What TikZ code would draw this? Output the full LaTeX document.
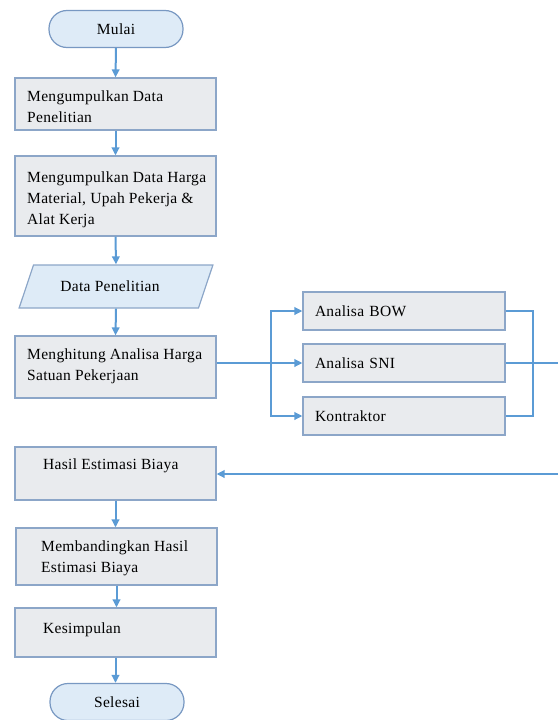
\documentclass[tikz,border=0pt]{standalone}
\usepackage{fontspec}
\setmainfont{Liberation Serif}[LetterSpace=2]
\usetikzlibrary{arrows.meta,positioning,shapes.geometric}
\definecolor{flowblue}{RGB}{91,155,213}
\definecolor{boxgray}{RGB}{233,235,238}
\definecolor{boxedge}{RGB}{140,166,200}
\definecolor{termblue}{RGB}{222,235,247}
\definecolor{termedge}{RGB}{120,152,194}

\begin{document}
\begin{tikzpicture}[
  x=1pt, y=-1pt,
  font=\rmfamily\fontsize{15.5}{21}\selectfont,
  line/.style={draw=flowblue, line width=2pt},
  flow/.style={line, -{Triangle[length=8pt,width=7.5pt]}},
  terminal/.style={draw=termedge, fill=termblue, line width=1.2pt,
    rounded corners=18pt, minimum width=134pt, minimum height=37pt},
  process/.style={draw=boxedge, fill=boxgray, line width=1.2pt,
    minimum width=201pt},
  branch/.style={process, minimum width=202pt, minimum height=38pt,
    text width=178pt, align=left, inner xsep=12pt},
  iodata/.style={draw=boxedge, fill=termblue, line width=1.2pt,
    trapezium, trapezium left angle=65, trapezium right angle=115,
    trapezium stretches=true, minimum width=194pt, minimum height=43pt},
  boxtext/.style={anchor=north west, inner sep=0pt, align=left}
]
\useasboundingbox (0,0) rectangle (558,720);

% Main column.
\node[terminal] (mulai) at (116,29) {Mulai};

\node[process, minimum height=52pt] (kumpul) at (115.5,104) {};
\node[boxtext] at (27,91) {Mengumpulkan Data\\Penelitian};

\node[process, minimum height=80pt] (harga) at (115.5,196) {};
\node[boxtext] at (27,172)
  {Mengumpulkan Data Harga\\Material, Upah Pekerja \&\\Alat Kerja};

\node[iodata] (data) at (116,286.5) {\hspace*{-12pt}Data Penelitian};

\node[process, minimum height=62pt] (hitung) at (115.5,367) {};
\node[boxtext] at (27,349) {Menghitung Analisa Harga\\Satuan Pekerjaan};

% Analysis methods.
\node[branch] (bow) at (404,311) {Analisa BOW};
\node[branch] (sni) at (404,363) {Analisa SNI};
\node[branch] (kontraktor) at (404,416) {Kontraktor};

% Results.
\node[process, minimum height=53pt] (hasil) at (115.5,473.5) {};
\node[boxtext] at (43,459) {Hasil Estimasi Biaya};

\node[process, minimum height=57pt] (banding) at (116.5,556.5) {};
\node[boxtext] at (41,541) {Membandingkan Hasil\\Estimasi Biaya};

\node[process, minimum height=49pt] (simpul) at (115.5,632.5) {};
\node[boxtext] at (43,623) {Kesimpulan};

\node[terminal] (selesai) at (117,702) {Selesai};

% Connectors.
\coordinate (split) at (271,363);
\coordinate (join) at (533,363);
\coordinate (outR) at (558,363);
\coordinate (inR) at (558,474);

\draw[flow] (mulai.south) -- (kumpul.north);
\draw[flow] (kumpul.south) -- (harga.north);
\draw[flow] (harga.south) -- (data.south |- data.north);
\draw[flow] (data.south) -- (hitung.north);
\draw[flow] (hitung.east |- sni.west) -- (sni.west);
\draw[flow] (split) |- (bow.west);
\draw[flow] (split) |- (kontraktor.west);
\draw[line] (bow.east) -| (join) |- (kontraktor.east);
\draw[line] (sni.east) -- (outR);
\draw[flow] (inR) -- (inR -| hasil.east);
\draw[flow] (hasil.south) -- (hasil.south |- banding.north);
\draw[flow] (banding.south) -- (banding.south |- simpul.north);
\draw[flow] (simpul.south) -- (simpul.south |- selesai.north);

\end{tikzpicture}
\end{document}
